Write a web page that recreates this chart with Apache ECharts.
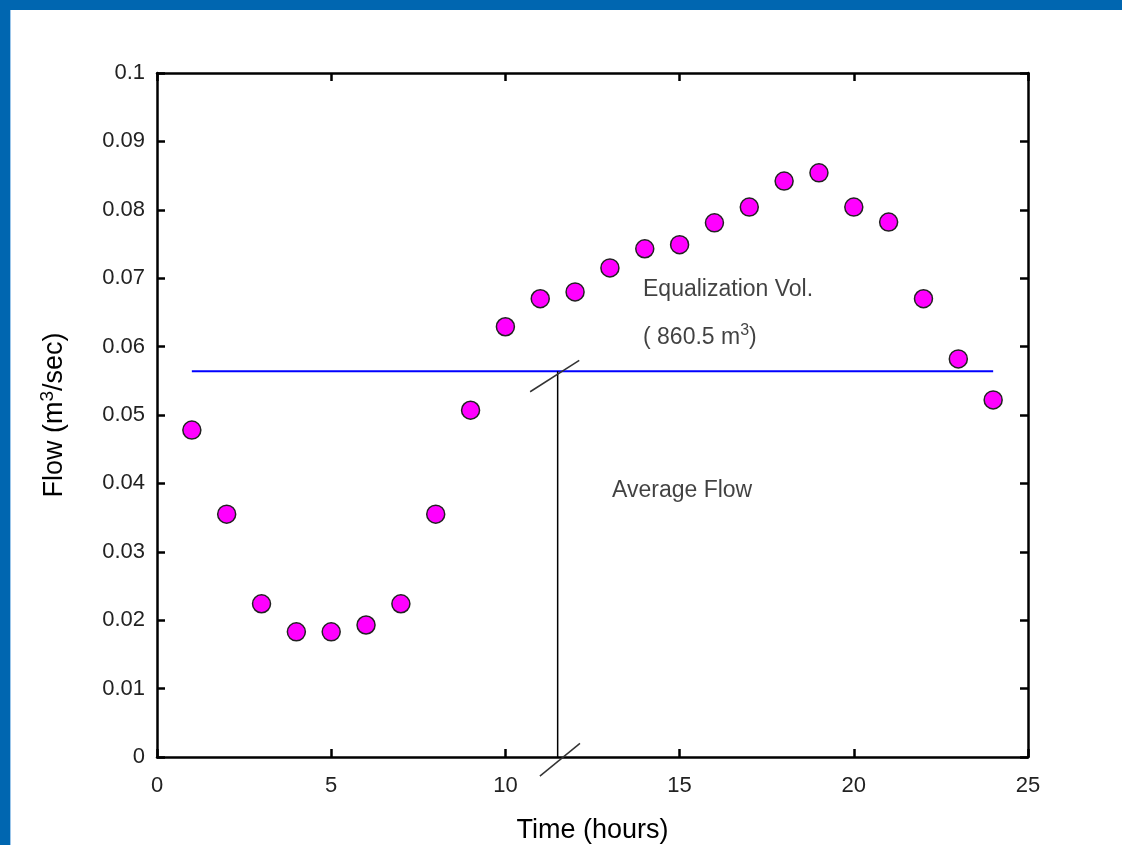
<!DOCTYPE html>
<html>
<head>
<meta charset="utf-8">
<script src="https://cdn.jsdelivr.net/npm/echarts@6/dist/echarts.min.js"></script>
<style>
  html, body { margin: 0; padding: 0; background: #fff; }
  #chart { width: 1122px; height: 845px; }
</style>
</head>
<body>
<div id="chart"></div>
<script>
// hourly flow readings (m3/sec)
const hours = [1, 2, 3, 4, 5, 6, 7, 8, 9, 10, 11, 12, 13, 14, 15, 16, 17, 18, 19, 20, 21, 22, 23, 24]
const flows = [0.0478, 0.0355, 0.0224, 0.0183, 0.0183, 0.0193, 0.0224, 0.0355, 0.0507, 0.0629,
  0.0670, 0.0680, 0.0715, 0.0743, 0.0749, 0.0781, 0.0804, 0.0842, 0.0854, 0.0804,
  0.0782, 0.0670, 0.0582, 0.0522]
const avgFlow = 0.0564
const avgSpan = [1, 24]
const eqVolX = 11.5
const topBreak = [[10.71, 0.0534], [12.12, 0.0580]]
const bottomBreak = [[10.99, -0.0028], [12.14, 0.0020]]
const notes = [
  {x: 13.95, y: 0.0683, text: 'Equalization Vol.'},
  {x: 13.95, y: 0.0613, text: '( 860.5 m{sup|3})'},
  {x: 13.06, y: 0.0390, text: 'Average Flow'}
]

const myChart = echarts.init(document.getElementById('chart'))
const font = 'Liberation Sans, Arial, sans-serif'

const axisCommon = {
  axisLine: {onZero: false, lineStyle: {color: '#000', width: 2.5}},
  axisTick: {inside: true, length: 8, lineStyle: {color: '#000', width: 2.5}},
  splitLine: {show: false},
  axisLabel: {color: '#222', fontSize: 22, fontFamily: font}
}

let option = {
  animation: false,
  graphic: [
    {type: 'rect', left: 0, top: 0, shape: {width: 1122, height: 10}, style: {fill: '#0066b0'}},
    {type: 'rect', left: 0, top: 0, shape: {width: 10, height: 845}, style: {fill: '#0066b0'}},
    {type: 'rect', left: 10, top: 10, shape: {width: 1, height: 835}, style: {fill: '#9cc6ea'}}
  ],
  grid: {left: 157, top: 73, width: 871, height: 684, containLabel: false, outerBoundsMode: 'none'},
  xAxis: [
    {
      ...axisCommon,
      type: 'value', min: 0, max: 25, interval: 5, position: 'bottom',
      axisLabel: {...axisCommon.axisLabel, margin: 18},
      name: 'Time (hours)', nameLocation: 'middle', nameGap: 60,
      nameTextStyle: {color: '#000', fontSize: 27, fontFamily: font}
    },
    {
      ...axisCommon,
      type: 'value', min: 0, max: 25, interval: 5, position: 'top',
      axisLabel: {show: false}
    }
  ],
  yAxis: [
    {
      ...axisCommon,
      type: 'value', min: 0, max: 0.1, interval: 0.01, position: 'left',
      axisLabel: {...axisCommon.axisLabel, margin: 12},
      name: 'Flow (m{sup|3}/sec)', nameLocation: 'middle', nameGap: 86, nameRotate: 90,
      nameTextStyle: {
        color: '#000', fontSize: 27, fontFamily: font,
        rich: {sup: {fontSize: 19, fontFamily: font, color: '#000', verticalAlign: 'bottom', padding: [0, 0, 14, 0]}}
      }
    },
    {
      ...axisCommon,
      type: 'value', min: 0, max: 0.1, interval: 0.01, position: 'right',
      axisLabel: {show: false}
    }
  ],
  series: [
    {
      type: 'line',
      data: avgSpan.map(x => [x, avgFlow]),
      symbol: 'none',
      lineStyle: {color: '#0000ff', width: 2},
      z: 2
    },
    {
      type: 'line',
      data: [[eqVolX, 0], [eqVolX, avgFlow]],
      symbol: 'none',
      lineStyle: {color: '#000', width: 1.5},
      z: 2
    },
    {
      type: 'line', data: topBreak, symbol: 'none', clip: false,
      lineStyle: {color: '#333', width: 1.5}, z: 3
    },
    {
      type: 'line', data: bottomBreak, symbol: 'none', clip: false,
      lineStyle: {color: '#333', width: 1.5}, z: 3
    },
    {
      type: 'scatter',
      data: hours.map((h, i) => [h, flows[i]]),
      symbol: 'circle',
      symbolSize: 18,
      itemStyle: {color: '#ff00ff', borderColor: '#222', borderWidth: 1.5, opacity: 1},
      z: 5
    },
    {
      type: 'scatter',
      data: notes.map(n => [n.x, n.y]),
      symbolSize: 0,
      silent: true,
      label: {
        show: true,
        position: 'right',
        distance: 0,
        color: '#111',
        fontSize: 23,
        fontFamily: font,
        formatter: p => notes[p.dataIndex].text,
        rich: {sup: {fontSize: 16, fontFamily: font, color: '#111', verticalAlign: 'bottom', padding: [0, 0, 15, 0]}}
      },
      z: 4
    }
  ]
}
myChart.setOption(option)
</script>
</body>
</html>
